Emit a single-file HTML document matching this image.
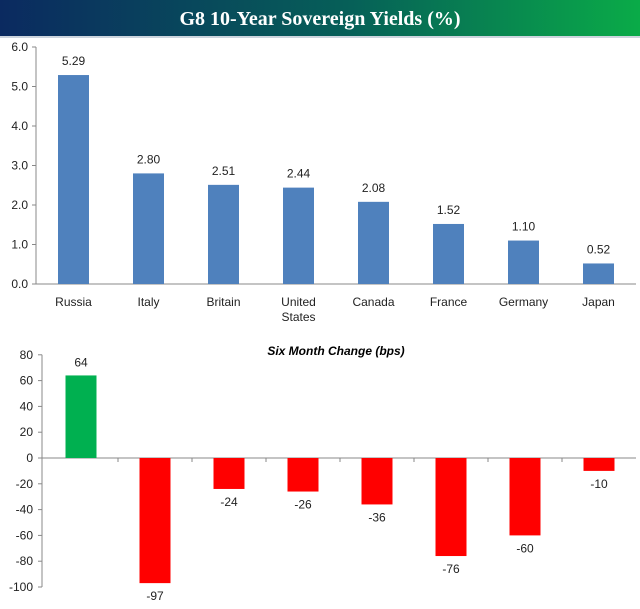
<!DOCTYPE html>
<html><head><meta charset="utf-8"><style>
body{margin:0;width:640px;height:604px;background:#fff;overflow:hidden;font-family:"Liberation Sans",sans-serif}
</style></head><body>
<svg width="640" height="604">
<defs><linearGradient id="g" x1="0" x2="1"><stop offset="0" stop-color="#0b2a60"/><stop offset="0.55" stop-color="#066058"/><stop offset="1" stop-color="#0aab48"/></linearGradient></defs>
<rect x="0" y="0" width="640" height="36" fill="url(#g)"/>
<line x1="0" y1="37" x2="640" y2="37" stroke="#9ab" stroke-width="1"/>
<text x="320" y="25" text-anchor="middle" fill="#fff" font-family="Liberation Serif,serif" font-size="20" font-weight="bold">G8 10-Year Sovereign Yields (%)</text>
<g id="topg"></g><g id="botg"></g>
<text x="336" y="355" text-anchor="middle" font-size="12" font-weight="bold" font-style="italic">Six Month Change (bps)</text>
</svg>
<script>
const categories=["Russia","Italy","Britain","United States","Canada","France","Germany","Japan"];
const yields=[5.29,2.80,2.51,2.44,2.08,1.52,1.10,0.52];
const yieldLabels=["5.29","2.80","2.51","2.44","2.08","1.52","1.10","0.52"];
const changes=[64,-97,-24,-26,-36,-76,-60,-10];
const topTicks=[0,1,2,3,4,5,6];
const botTicks=[80,60,40,20,0,-20,-40,-60,-80,-100];
const NS="http://www.w3.org/2000/svg";
function mk(p,t,a){const e=document.createElementNS(NS,t);for(const k in a)e.setAttribute(k,a[k]);p.appendChild(e);return e;}
// top chart
const topG=document.getElementById('topg');
const tx0=36,tw=75,ty=v=>284-v*39.5;
mk(topG,'line',{x1:tx0,y1:ty(6),x2:tx0,y2:284,stroke:'#888'});
mk(topG,'line',{x1:tx0,y1:284,x2:636,y2:284,stroke:'#888'});
topTicks.forEach(t=>{mk(topG,'line',{x1:tx0-4,y1:ty(t),x2:tx0,y2:ty(t),stroke:'#888'});
 const l=mk(topG,'text',{x:tx0-8,y:ty(t)+4,'text-anchor':'end','font-size':12,fill:'#222'});l.textContent=t.toFixed(1);
 
 });
categories.forEach((c,i)=>{const cx=tx0+tw*(i+0.5);
 const r=mk(topG,'rect',{x:cx-15.5,y:ty(yields[i]),width:31,height:284-ty(yields[i]),fill:'#4f81bd'});
 
 
 const v=mk(topG,'text',{x:cx,y:ty(yields[i])-10,'text-anchor':'middle','font-size':12,fill:'#222'});v.textContent=yieldLabels[i];
 
 
 const parts=c==="United States"?["United","States"]:[c];
 parts.forEach((p,j)=>{const l=mk(topG,'text',{x:cx,y:306+j*15,'text-anchor':'middle','font-size':12,fill:'#222'});l.textContent=p;
  
  });
});
// bottom chart
const botG=document.getElementById('botg');
const bx0=44,bw=74,by=v=>458-v*1.29;
mk(botG,'line',{x1:42,y1:by(80),x2:42,y2:by(-100),stroke:'#888'});
mk(botG,'line',{x1:42,y1:by(0),x2:636,y2:by(0),stroke:'#888'});
botTicks.forEach(t=>{mk(botG,'line',{x1:38,y1:by(t),x2:42,y2:by(t),stroke:'#888'});
 const l=mk(botG,'text',{x:33,y:by(t)+4,'text-anchor':'end','font-size':12,fill:'#222'});l.textContent=t;
 
 });
categories.forEach((c,i)=>{const cx=bx0+bw*(i+0.5),v=changes[i];
 if(i>0)mk(botG,'line',{x1:bx0+bw*i,y1:by(0),x2:bx0+bw*i,y2:by(0)+4,stroke:'#888'});
 const y0=Math.min(by(0),by(v)),h=Math.abs(by(v)-by(0));
 const r=mk(botG,'rect',{x:cx-15.5,y:y0,width:31,height:h,fill:v>=0?'#00b050':'#ff0000'});
 
 
 const t=mk(botG,'text',{x:cx,y:v>=0?by(v)-9:by(v)+17,'text-anchor':'middle','font-size':12,fill:'#222'});t.textContent=v;
 
 
});
</script>
</body></html>
